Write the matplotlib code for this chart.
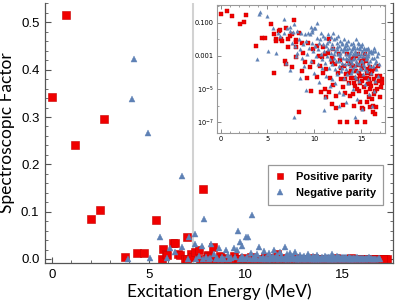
import numpy as np
import matplotlib
matplotlib.use("Agg")
import matplotlib.pyplot as plt
from matplotlib.ticker import MultipleLocator, FixedLocator, FixedFormatter, NullFormatter

# Positive parity states: excitation energy (MeV) and log10 of spectroscopic factor
pos_energy = [
    0.00, 0.72, 1.18, 2.03, 2.50, 2.70, 3.80, 4.40, 4.75, 5.36,
    5.70, 5.75, 5.90, 5.95, 6.24, 6.37, 6.50, 6.60, 6.85, 6.96,
    6.98, 7.20, 7.23, 7.39, 7.60, 7.62, 7.81, 8.05, 8.05, 8.05,
    8.00, 8.33, 8.40, 8.66, 8.84, 9.00, 9.37, 9.55, 9.66, 9.85,
    9.90, 8.66, 9.20, 10.27, 10.27, 10.50, 10.73, 10.80, 10.97, 10.60,
    10.90, 11.10, 11.27, 11.50, 11.60, 11.87, 11.87, 11.30, 11.70, 11.20,
    11.95, 11.60, 12.05, 12.37, 12.76, 12.76, 12.20, 12.50, 12.60, 12.90,
    12.30, 12.85, 13.10, 13.30, 13.50, 13.20, 13.40, 13.60, 13.75, 13.90,
    13.05, 13.50, 13.80, 13.95, 14.10, 14.20, 14.30, 14.40, 14.50, 14.55,
    14.60, 14.70, 14.75, 14.80, 14.90, 14.95, 14.15, 14.45, 14.85, 14.30,
    14.65, 15.00, 15.08, 15.10, 15.20, 15.20, 15.30, 15.43, 15.40, 15.50,
    15.55, 15.60, 15.70, 15.75, 15.85, 15.90, 15.97, 15.30, 15.65, 15.45,
    15.95, 16.00, 16.05, 16.10, 16.20, 16.25, 16.30, 16.35, 16.40, 16.50,
    16.50, 16.60, 16.60, 16.70, 16.75, 16.86, 16.90, 17.00, 17.10, 17.20, 17.30,
    16.15, 17.05, 14.00, 12.00,
    13.30, 13.70, 14.25, 14.60, 15.15, 15.60, 16.00, 16.45, 13.85, 14.90,
]
pos_log_sf = [
    -0.466, -0.288, -0.618, -1.071, -0.987, -0.529, -2.40, -1.92, -1.92, -1.086,
    -4.00, -1.68, -1.96, -2.12, -1.48, -1.46, -1.96, -2.10, -3.31, -1.34,
    -3.46, -1.96, -2.46, -1.82, -1.70, -3.64, -0.83, -2.05, -2.15, -2.46,
    -3.08, -1.60, -6.36, -2.24, -2.84, -3.35, -2.20, -3.65, -5.11, -3.35,
    -2.60, -3.91, -4.30, -2.40, -4.25, -3.00, -5.20, -3.05, -2.44, -3.60,
    -4.00, -5.00, -5.46, -2.84, -5.20, -3.35, -5.90, -3.80, -4.30, -2.90,
    -3.10, -2.00, -4.75, -6.16, -3.25, -7.00, -3.50, -4.00, -2.90, -4.40,
    -5.40, -3.70, -5.96, -5.25, -7.00, -3.60, -4.10, -3.30, -4.60, -3.90,
    -4.90, -2.90, -5.40, -4.30, -3.60, -4.30, -3.10, -4.80, -3.90, -7.00,
    -4.40, -3.55, -5.10, -4.00, -5.76, -3.30, -5.30, -3.00, -4.60, -6.00,
    -2.90, -4.20, -6.16, -3.70, -3.55, -6.20, -4.90, -7.00, -4.30, -3.30,
    -5.20, -4.00, -4.70, -3.80, -5.50, -4.40, -3.65, -3.20, -5.80, -2.90,
    -5.00, -6.10, -4.10, -4.80, -3.90, -6.36, -6.00, -4.40, -5.30, -3.80,
    -6.50, -4.65, -6.06, -4.20, -5.00, -3.60, -4.50, -4.20, -4.90, -4.40, -4.60,
    -5.60, -5.50, -3.20, -2.60,
    -4.40, -4.00, -4.60, -5.00, -4.50, -4.30, -4.60, -5.10, -3.50, -4.20,
]

# Negative parity states
neg_energy = [
    3.93, 4.12, 4.23, 4.95, 5.05, 5.60, 5.94, 6.11, 6.34, 6.73,
    6.73, 7.00, 7.09, 7.39, 7.40, 7.45, 7.60, 7.75, 7.80, 7.85,
    7.95, 8.10, 8.20, 8.35, 8.50, 8.60, 8.70, 8.80, 8.90, 9.00,
    8.45, 8.15, 9.10, 9.15, 9.25, 9.37, 9.45, 9.55, 9.62, 9.70,
    9.73, 9.80, 9.85, 9.95, 9.79, 10.00, 10.05, 10.12, 10.20, 10.25,
    10.34, 10.40, 10.45, 10.55, 10.60, 10.70, 10.75, 10.80, 10.90, 10.95,
    11.00, 10.85, 10.50, 11.05, 11.10, 11.20, 11.25, 11.30, 11.35, 11.45,
    11.50, 11.55, 11.60, 11.65, 11.70, 11.75, 11.80, 11.85, 11.90, 11.95,
    11.15, 12.03, 12.05, 12.10, 12.15, 12.20, 12.25, 12.30, 12.35, 12.40,
    12.45, 12.50, 12.54, 12.60, 12.65, 12.70, 12.75, 12.80, 12.85, 12.90,
    12.95, 12.20, 12.60, 12.40, 12.80, 13.00, 13.05, 13.10, 13.15, 13.20,
    13.25, 13.30, 13.35, 13.40, 13.45, 13.50, 13.55, 13.60, 13.65, 13.70,
    13.75, 13.80, 13.85, 13.90, 13.95, 13.10, 13.40, 13.70, 13.25, 13.90,
    13.60, 14.00, 14.05, 14.10, 14.15, 14.20, 14.25, 14.30, 14.35, 14.40,
    14.45, 14.50, 14.55, 14.60, 14.65, 14.70, 14.75, 14.80, 14.85, 14.90,
    14.95, 14.10, 14.30, 14.50, 14.70, 14.90, 14.20, 14.60, 14.40, 14.80,
    14.35, 15.00, 15.05, 15.10, 15.15, 15.20, 15.25, 15.30, 15.35, 15.40,
    15.45, 15.50, 15.55, 15.60, 15.65, 15.70, 15.75, 15.80, 15.85, 15.90,
    15.95, 15.20, 15.40, 15.60, 15.80, 15.10, 16.00, 16.05, 16.10, 16.20,
    16.25, 16.30, 16.40, 16.45, 16.50, 16.55, 16.65, 16.70, 16.80, 16.90, 16.35, 16.15,
    11.40, 11.80, 12.10, 12.45, 12.70, 12.95, 13.15, 13.35, 13.55, 13.75,
    13.95, 14.15, 14.35, 14.55, 14.75, 14.95, 15.15, 15.35, 15.55, 15.75,
    15.95, 16.15, 16.35, 16.60, 16.85, 13.00, 13.50, 14.00, 14.50, 15.00,
]
neg_log_sf = [
    -3.17, -0.47, -0.375, -0.575, -2.70, -1.34, -2.82, -1.62, -1.82, -0.757,
    -1.60, -3.40, -1.34, -1.28, -1.51, -3.85, -2.22, -1.57, -6.70, -1.07,
    -2.40, -3.00, -1.50, -2.00, -2.60, -1.62, -3.10, -2.30, -3.60, -1.70,
    -4.30, -2.80, -2.10, -5.05, -2.90, -1.64, -2.50, -1.70, -1.23, -3.30,
    -1.44, -2.20, -2.70, -4.00, -1.55, -1.34, -2.40, -1.34, -3.00, -1.90,
    -1.03, -2.60, -3.50, -4.55, -2.00, -1.60, -2.90, -3.70, -2.30, -1.80,
    -6.26, -3.20, -2.20, -2.70, -3.40, -1.90, -2.40, -4.20, -3.00, -1.70,
    -2.60, -3.70, -2.10, -4.80, -3.20, -1.85, -2.80, -2.30, -3.50, -4.40,
    -5.50, -1.60, -2.50, -3.10, -2.00, -3.80, -2.70, -1.90, -3.30, -2.20,
    -4.10, -2.90, -1.82, -3.60, -2.40, -5.20, -3.00, -2.10, -3.90, -2.60,
    -3.40, -4.60, -6.00, -2.60, -2.80, -2.20, -3.10, -2.70, -4.30, -2.00,
    -3.50, -2.40, -2.90, -3.80, -2.20, -3.20, -2.60, -4.60, -2.10, -3.00,
    -2.50, -3.60, -2.80, -4.00, -2.30, -5.30, -5.80, -2.90, -2.60, -3.30,
    -3.40, -2.60, -3.40, -2.20, -2.90, -3.70, -2.40, -3.10, -4.20, -2.70,
    -2.00, -3.30, -2.50, -3.90, -2.80, -2.20, -3.50, -4.50, -2.60, -3.00,
    -2.40, -3.20, -2.50, -2.90, -3.10, -3.70, -5.00, -5.60, -6.70, -2.30,
    -3.60, -2.90, -2.40, -3.30, -2.70, -4.10, -3.00, -2.50, -3.60, -2.80,
    -4.70, -3.20, -2.60, -3.90, -3.10, -2.90, -4.40, -3.40, -2.70, -5.30,
    -2.75, -3.50, -3.80, -2.60, -3.00, -6.20, -3.30, -2.70, -4.00, -2.80,
    -3.60, -2.70, -3.10, -2.70, -4.50, -3.40, -3.80, -3.00, -4.20, -3.50, -5.10, -6.00,
    -2.20, -2.50, -2.90, -2.45, -3.30, -2.30, -2.50, -3.10, -2.35, -3.20,
    -2.70, -2.45, -2.80, -3.40, -2.50, -3.30, -2.30, -2.60, -3.00, -2.50,
    -3.60, -3.10, -2.50, -3.30, -2.80, -3.70, -4.10, -3.90, -4.30, -3.80,
]

threshold_energy = 7.27  # grey vertical line

pos_sf = 10.0 ** np.array(pos_log_sf)
neg_sf = 10.0 ** np.array(neg_log_sf)

red = "#F00000"
red_edge = "#C80000"
blue = "#5E81B5"
frame = "#555555"

fig = plt.figure(figsize=(4.07, 3.03), dpi=100)
ax = fig.add_axes([45 / 407, 40 / 303, 348 / 407, 260 / 303])

ax.axvline(threshold_energy, color="#D2D2D2", lw=1.5, zorder=1)
ax.plot(pos_energy, pos_sf, "s", color=red, mec=red_edge, mew=0.4, ms=5.2,
        label="Positive parity", zorder=2)
ax.plot(neg_energy, neg_sf, "^", color=blue, mec=blue, mew=0.3, ms=5.0,
        label="Negative parity", zorder=3)

ax.set_xlim(-0.345, 17.59)
ax.set_ylim(-0.0085, 0.541)
ax.xaxis.set_major_locator(MultipleLocator(5))
ax.xaxis.set_minor_locator(MultipleLocator(1))
ax.yaxis.set_major_locator(MultipleLocator(0.1))
ax.yaxis.set_minor_locator(MultipleLocator(0.02))
ax.yaxis.set_major_formatter(matplotlib.ticker.FormatStrFormatter("%.1f"))
ax.tick_params(which="both", direction="in", color=frame, right=True, top=False,
               labelsize=9.5, pad=4)
ax.tick_params(which="major", length=4, width=0.8)
ax.tick_params(which="minor", length=2, width=0.6)
for lab in ax.get_xticklabels() + ax.get_yticklabels():
    lab.set_family("Liberation Sans")
ax.spines["top"].set_visible(False)
for s in ["left", "bottom", "right"]:
    ax.spines[s].set_color(frame)
    ax.spines[s].set_linewidth(0.9)

ax.set_xlabel("Excitation Energy (MeV)", family="Lato", fontsize=12.5, labelpad=2)
ax.set_ylabel("Spectroscopic Factor", family="Lato", fontsize=12.5, labelpad=4)

leg = ax.legend(loc="upper right", bbox_to_anchor=(382.7 / 407, 1 - 165 / 303),
                bbox_transform=fig.transFigure, borderaxespad=0, fancybox=False,
                edgecolor="#999999", framealpha=1, handlelength=1.0,
                handletextpad=0.9, borderpad=0.6, labelspacing=0.6,
                prop={"family": "Liberation Sans", "weight": "bold", "size": 8})
leg.get_frame().set_linewidth(0.9)
leg.legend_handles[0].set_markersize(5.0)
leg.legend_handles[1].set_markersize(4.2)

# Inset with logarithmic scale
ins = fig.add_axes([216.7 / 407, 170 / 303, 168.3 / 407, 128 / 303])
ins.plot(pos_energy, pos_sf, "s", color=red, mec=red_edge, mew=0.3, ms=3.2, zorder=2)
ins.plot(neg_energy, neg_sf, "^", color=blue, mec=blue, mew=0.2, ms=2.6, zorder=3)
ins.set_yscale("log")
ins.set_xlim(-0.43, 17.57)
ins.set_ylim(10 ** -7.64, 10 ** 0.066)
ins.xaxis.set_major_locator(MultipleLocator(5))
ins.xaxis.set_minor_locator(MultipleLocator(1))
ins.yaxis.set_major_locator(FixedLocator([1e-1, 1e-3, 1e-5, 1e-7]))
ins.yaxis.set_major_formatter(FixedFormatter(["0.100", "0.001", r"$10^{-5}$", r"$10^{-7}$"]))
ins.yaxis.set_minor_locator(FixedLocator([10.0 ** k for k in range(-8, 1)]))
ins.yaxis.set_minor_formatter(NullFormatter())
ins.tick_params(which="both", direction="in", color="#777777", top=True, right=True,
                labelsize=4.8, pad=2)
ins.tick_params(which="major", length=3, width=0.6)
ins.tick_params(which="minor", length=1.5, width=0.5)
for s in ins.spines.values():
    s.set_color("#999999")
    s.set_linewidth(0.8)

fig.savefig("out.png", dpi=100)
